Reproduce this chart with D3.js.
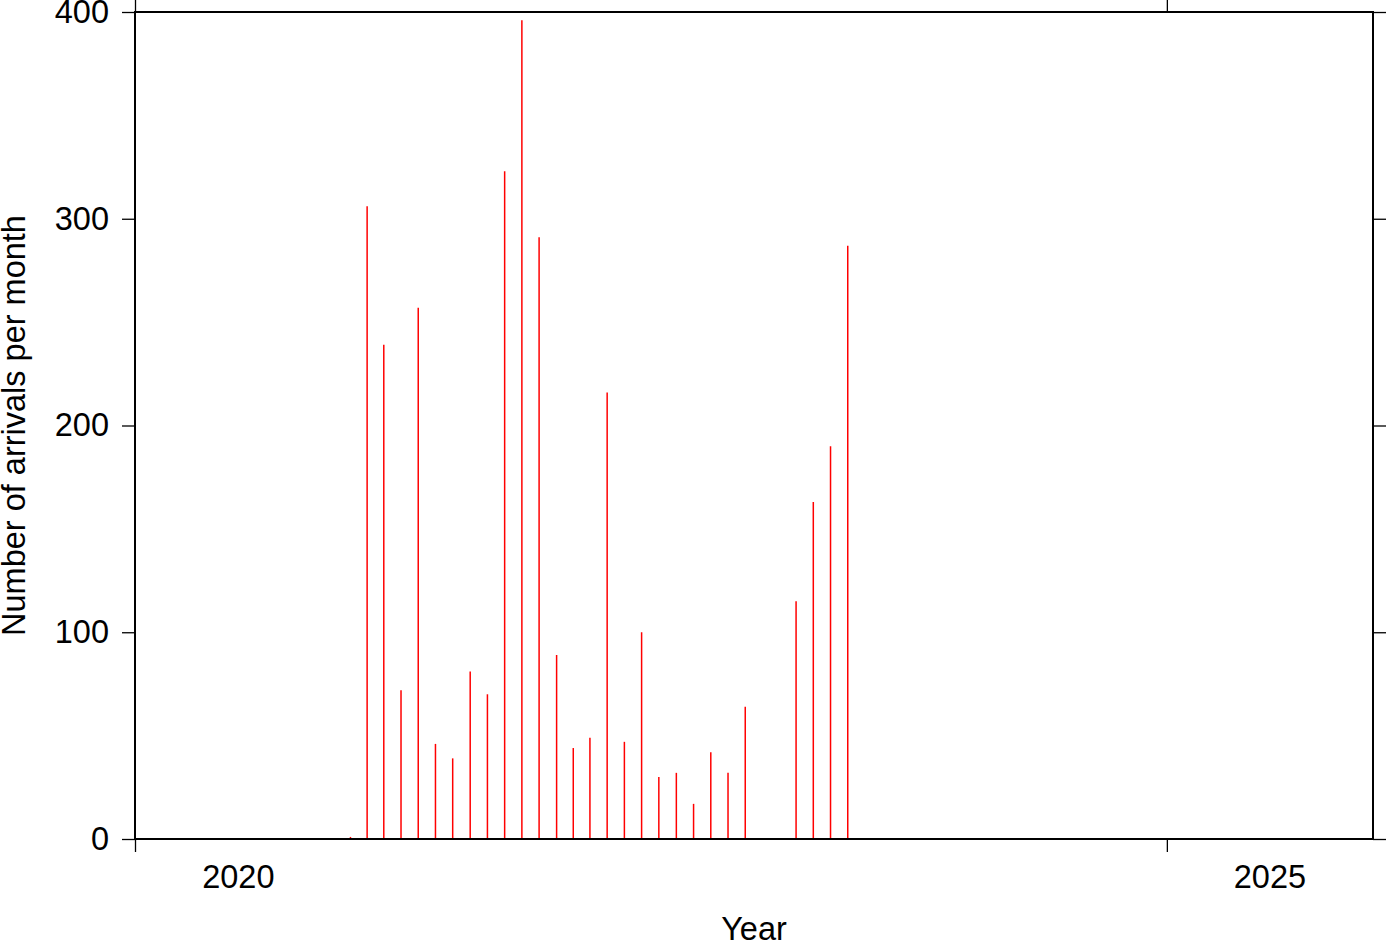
<!DOCTYPE html>
<html>
<head>
<meta charset="utf-8">
<script src="https://cdn.jsdelivr.net/npm/d3@7"></script>
<style>
html,body{margin:0;padding:0;background:#fff;}
text{font-family:"Liberation Sans",Arial,Helvetica,sans-serif;}
</style>
</head>
<body>
<svg id="chart" width="1387" height="942"></svg>
<script>
const months = ["2021-01","2021-02","2021-03","2021-04","2021-05","2021-06","2021-07","2021-08","2021-09","2021-10","2021-11","2021-12",
"2022-01","2022-02","2022-03","2022-04","2022-05","2022-06","2022-07","2022-08","2022-09","2022-10","2022-11","2022-12",
"2023-03","2023-04","2023-05","2023-06"];
const counts = [1,306,239,72,257,46,39,81,70,323,396,291,
89,44,49,216,47,100,30,32,17,42,32,64,
115,163,190,287];
const yTicks = [0,100,200,300,400];
const xTickYears = [2020,2025];
const xLabelYears = [2020,2025];
const yTitle = "Number of arrivals per month";
const xTitle = "Year";

const svg = d3.select("#chart");
const mL = 135, mR = 1373, mT = 12, mB = 839;
const fs = 32.5;

const x = d3.scaleUtc().domain([new Date(Date.UTC(2020,0,1)), new Date(Date.UTC(2026,0,1))]).range([mL,mR]);
const y = d3.scaleLinear().domain([0,400]).range([mB,mT]);

function mid(m){
  const [yy,mm] = m.split("-").map(Number);
  const a = x(new Date(Date.UTC(yy,mm-1,1))), b = x(new Date(Date.UTC(yy,mm,1)));
  return (a+b)/2;
}

// bars
svg.append("g").selectAll("line").data(months).join("line")
  .attr("x1",(d)=>mid(d)).attr("x2",(d)=>mid(d))
  .attr("y1",y(0)).attr("y2",(d,i)=>y(counts[i]))
  .attr("stroke","#ff0000").attr("stroke-width",1.5);

// frame
svg.append("rect").attr("x",mL).attr("y",mT).attr("width",mR-mL).attr("height",mB-mT)
  .attr("fill","none").attr("stroke","#000").attr("stroke-width",2);

// y axes
const yL = d3.axisLeft(y).tickValues(yTicks).tickSize(13).tickPadding(13).tickFormat(d3.format("d"));
const gL = svg.append("g").attr("transform",`translate(${mL},0)`).call(yL);
gL.select(".domain").remove();
gL.selectAll("line").attr("stroke","#000").attr("stroke-width",1.3);
gL.selectAll("text").attr("font-size",fs).attr("fill","#000").attr("font-family","Liberation Sans, Arial, sans-serif");

const yR = d3.axisRight(y).tickValues(yTicks).tickSize(13).tickFormat("");
const gR = svg.append("g").attr("transform",`translate(${mR},0)`).call(yR);
gR.select(".domain").remove();
gR.selectAll("line").attr("stroke","#000").attr("stroke-width",1.3);

// x axes ticks
const tickDates = xTickYears.map(v=>new Date(Date.UTC(v,0,1)));
const xB = d3.axisBottom(x).tickValues(tickDates).tickSize(13).tickFormat("");
const gB = svg.append("g").attr("transform",`translate(0,${mB})`).call(xB);
gB.select(".domain").remove();
gB.selectAll("line").attr("stroke","#000").attr("stroke-width",1.3);
const xT = d3.axisTop(x).tickValues(tickDates).tickSize(13).tickFormat("");
const gT = svg.append("g").attr("transform",`translate(0,${mT})`).call(xT);
gT.select(".domain").remove();
gT.selectAll("line").attr("stroke","#000").attr("stroke-width",1.3);

// x labels centered in year intervals
svg.append("g").selectAll("text").data(xLabelYears).join("text")
  .attr("x",d=>(x(new Date(Date.UTC(d,0,1)))+x(new Date(Date.UTC(d+1,0,1))))/2)
  .attr("y",888).attr("text-anchor","middle").attr("font-size",fs).text(d=>d);

// titles
svg.append("text").attr("x",(mL+mR)/2).attr("y",940).attr("text-anchor","middle").attr("font-size",fs).text(xTitle);
svg.append("text").attr("transform",`translate(25,${(mT+mB)/2}) rotate(-90)`).attr("text-anchor","middle").attr("font-size",fs).text(yTitle);
</script>
</body>
</html>
